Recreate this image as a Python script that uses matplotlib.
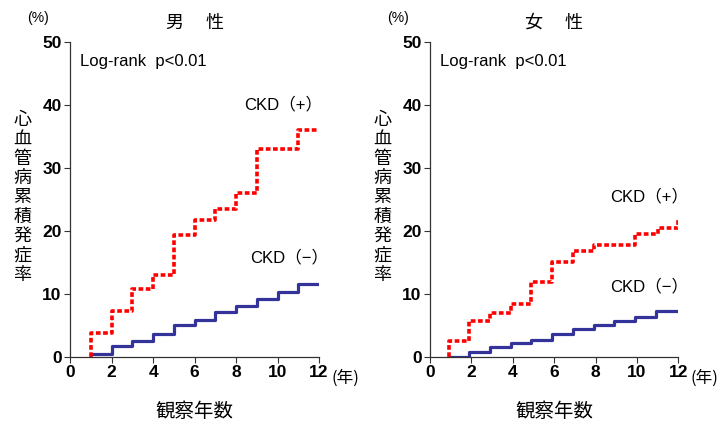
import matplotlib
matplotlib.use("Agg")
import matplotlib.pyplot as plt

plt.rcParams['font.family'] = ['Liberation Sans', 'Noto Sans CJK JP', 'DejaVu Sans']

# データ
panel_titles = ["男　 性", "女　 性"]

male_pos_t = [1, 1, 2, 3, 4, 5, 6, 7, 8, 9, 11, 12]
male_pos_v = [0, 3.7, 7.2, 10.7, 13.0, 19.3, 21.7, 23.5, 26.0, 32.9, 36.0, 36.0]
male_neg_t = [1, 2, 3, 4, 5, 6, 7, 8, 9, 10, 11, 12]
male_neg_v = [0.5, 1.7, 2.5, 3.6, 5.0, 5.9, 7.1, 8.0, 9.1, 10.2, 11.5, 11.5]

female_pos_t = [0.9, 0.9, 1.9, 2.9, 3.9, 4.9, 5.9, 6.9, 7.9, 9.9, 11.0, 12.0]
female_pos_v = [0, 2.5, 5.7, 7.0, 8.4, 11.8, 15.0, 16.8, 17.7, 19.5, 20.4, 22.0]
female_neg_t = [0.9, 1.9, 2.9, 3.9, 4.9, 5.9, 6.9, 7.9, 8.9, 9.9, 10.9, 12.0]
female_neg_v = [0, 0.8, 1.5, 2.1, 2.65, 3.6, 4.35, 5.0, 5.6, 6.25, 7.3, 7.3]

xticks = [0, 2, 4, 6, 8, 10, 12]
yticks = [0, 10, 20, 30, 40, 50]

# ラベル位置 (データ座標)
pos_label_x = [12.15, 12.5]
neg_label_x = [12.45, 12.5]
pos_label_y = [40.0, 25.5]
neg_label_y = [15.7, 11.2]

RED = '#ff0000'
BLUE = '#333399'
tick_font = dict(family=['Liberation Sans Narrow', 'Liberation Sans'], weight='bold', size=12.5)

fig = plt.figure(figsize=(7.22, 4.23), dpi=100)
axes = [fig.add_axes([0.097, 0.1567, 0.345, 0.7447]),
        fig.add_axes([0.5956, 0.1567, 0.344, 0.7447])]

series = [(male_pos_t, male_pos_v, male_neg_t, male_neg_v),
          (female_pos_t, female_pos_v, female_neg_t, female_neg_v)]

for i, ax in enumerate(axes):
    pt, pv, nt, nv = series[i]
    ax.plot(nt, nv, drawstyle='steps-post', color=BLUE, lw=2.3, solid_capstyle='butt')
    ax.plot(pt, pv, drawstyle='steps-post', color=RED, lw=2.6, linestyle=(0, (1.3, 0.7)))

    ax.set_xlim(0, 12)
    ax.set_ylim(0, 50)
    ax.set_xticks(xticks)
    ax.set_yticks(yticks)
    ax.set_xticklabels([str(t) for t in xticks], fontdict=tick_font)
    ax.set_yticklabels([str(t) for t in yticks], fontdict=tick_font)
    ax.tick_params(direction='out', length=4, width=0.8, colors='#333333', labelcolor='black', pad=2)
    for s in ['top', 'right']:
        ax.spines[s].set_visible(False)
    for s in ['left', 'bottom']:
        ax.spines[s].set_color('#333333')
        ax.spines[s].set_linewidth(0.9)

    ax.text(0.5, 46.8, "Log-rank  p<0.01", fontsize=12, va='center', ha='left')
    ax.text(pos_label_x[i], pos_label_y[i], "CKD（+）", fontsize=12, va='center', ha='right')
    ax.text(neg_label_x[i], neg_label_y[i], "CKD（−）", fontsize=12, va='center', ha='right')

    # 単位・タイトル
    ax.text(12.6, -3.4, "(年)", fontsize=12, va='center', ha='left',
            family=['Noto Sans CJK JP'], clip_on=False)
    ax.text(-1.55, 53.8, "(%)", fontsize=10, va='center', ha='center', clip_on=False)
    ax.text(6.0, 53.0, panel_titles[i], fontsize=13, va='center', ha='center',
            family=['Noto Sans CJK JP'], clip_on=False)
    ax.text(6.0, -8.7, "観察年数", fontsize=14, va='center', ha='center',
            family=['Noto Sans CJK JP'], clip_on=False)
    ax.text(-2.3, 25.3, "\n".join("心血管病累積発症率"), fontsize=13, va='center', ha='center',
            family=['Noto Sans CJK JP'], linespacing=1.1, clip_on=False)

fig.savefig("out.png", dpi=100)
